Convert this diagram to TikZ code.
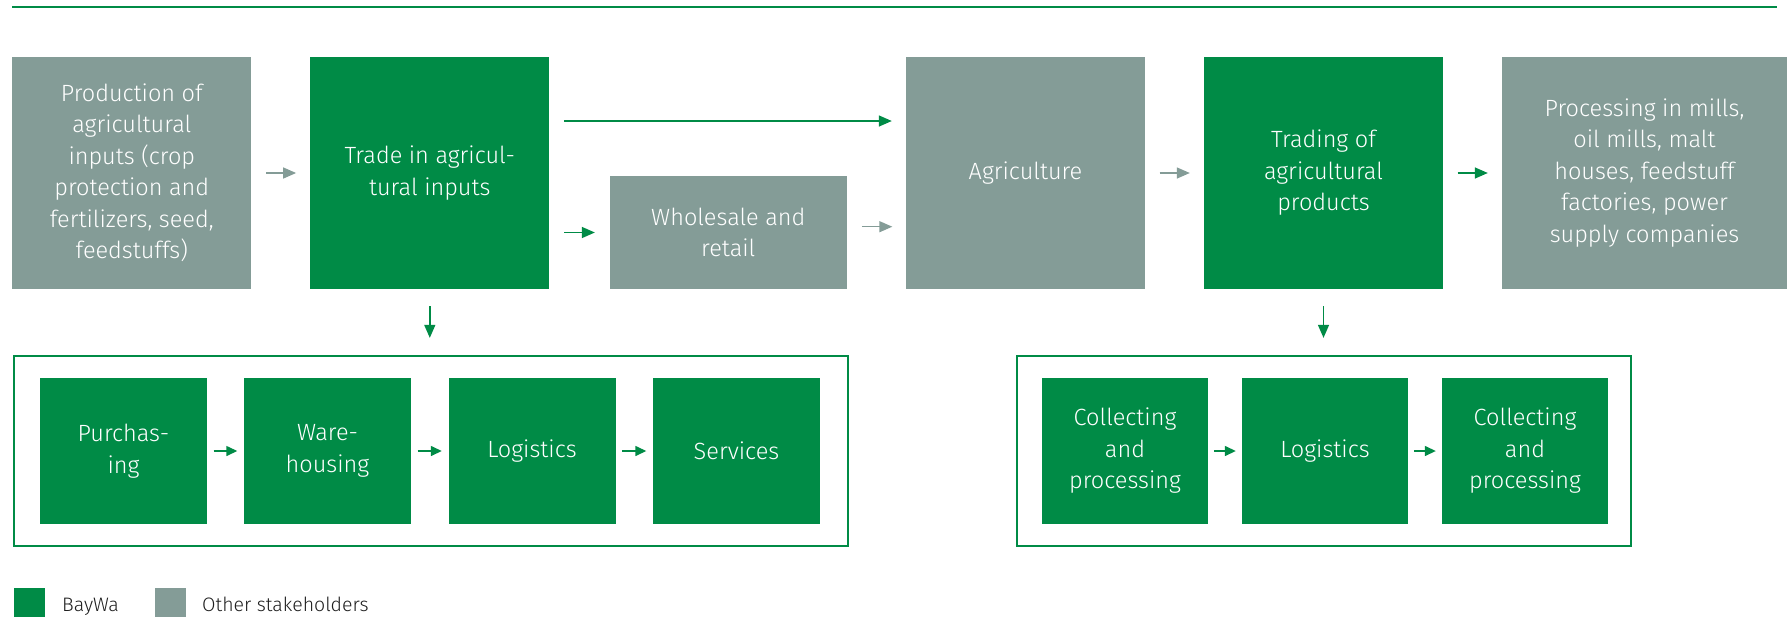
\documentclass[tikz,border=0pt]{standalone}
\usepackage{fontspec}
\setmainfont{Fira Sans Light}
\usetikzlibrary{arrows.meta,calc}
\definecolor{bwgreen}{RGB}{0,139,70}
\definecolor{bwgray}{RGB}{132,156,151}
\definecolor{legtext}{RGB}{30,30,30}
\begin{document}
\begin{tikzpicture}[x=1pt,y=-1pt,
  box/.style={inner sep=0pt, align=center, text=white, font=\fontsize{23.5}{31.5}\selectfont},
  greenbox/.style={box, fill=bwgreen},
  graybox/.style={box, fill=bwgray},
  topbox/.style={minimum width=239pt, minimum height=232pt},
  innerbox/.style={greenbox, minimum width=167pt, minimum height=146pt},
  frame/.style={draw=bwgreen, line width=2.3pt, fill=none},
  arr/.style={-{Triangle[length=13pt,width=11pt]}, line width=1.4pt},
  garr/.style={arr, draw=bwgreen},
  grarr/.style={arr, draw=bwgray},
  sarr/.style={-{Triangle[length=11pt,width=10pt]}, line width=1.4pt, draw=bwgreen, shorten <=6.5pt, shorten >=6.5pt},
  legsq/.style={inner sep=0pt, minimum width=31pt, minimum height=31pt},
  legtxt/.style={inner sep=0pt, anchor=base west, text=legtext, font=\fontsize{19.5}{22}\selectfont}
]
\useasboundingbox (0,0) rectangle (1790,616);
\fill[white] (0,0) rectangle (1790,616);

% top rule
\coordinate (rl) at (12,7);
\coordinate (rr) at (1777,7);
\draw[bwgreen, line width=2.3pt] (rl) -- (rr);

% top row
\node[graybox, topbox] (prod) at (131.8,173) {Production of\\agricultural\\inputs (crop\\protection and\\fertilizers, seed,\\feedstuffs)};
\node[greenbox, topbox] (trade) at (429.8,173) {Trade in agricul-\\tural inputs};
\node[graybox, minimum width=237.5pt, minimum height=113pt] (whole) at (728.3,232.5) {Wholesale and\\retail};
\node[graybox, topbox] (agri) at (1025.5,173) {Agriculture};
\node[greenbox, topbox] (tradp) at (1323.5,173) {Trading of\\agricultural\\products};
\node[graybox, topbox, minimum width=285pt] (proc) at (1644.5,173) {Processing in mills,\\oil mills, malt\\houses, feedstuff\\factories, power\\supply companies};

% frames
\node[frame, inner sep=0pt, minimum width=834pt, minimum height=190pt] (frL) at (431,451) {};
\node[frame, inner sep=0pt, minimum width=614pt, minimum height=190pt] (frR) at (1324,451) {};

% inner boxes left
\node[innerbox] (purch) at (123.5,451) {Purchas-\\ing};
\node[innerbox] (ware) at (327.5,451) {Ware-\\housing};
\node[innerbox] (logL) at (532,451) {Logistics};
\node[innerbox] (serv) at (736.5,451) {Services};

% inner boxes right
\node[innerbox, minimum width=166pt] (coll1) at (1125,451) {Collecting\\and\\processing};
\node[innerbox, minimum width=166pt] (logR) at (1325,451) {Logistics};
\node[innerbox, minimum width=166pt] (coll2) at (1525,451) {Collecting\\and\\processing};

% top-row arrows
\draw[grarr, shorten <=14.5pt, shorten >=14pt] (prod.east) -- (trade.west);
\draw[garr, shorten <=14.5pt, shorten >=14pt] (trade.east |- 0,121) -- (agri.west |- 0,121);
\draw[garr, shorten <=14.5pt, shorten >=14.5pt] (trade.east |- whole.west) -- (whole.west);
\draw[grarr, shorten <=14.5pt, shorten >=13.5pt] ([yshift=5.8pt]whole.east) -- ([yshift=5.8pt]agri.west |- whole.east);
\draw[grarr, shorten <=14.5pt, shorten >=14pt] (agri.east) -- (tradp.west);
\draw[garr, shorten <=14.5pt, shorten >=14pt] (tradp.east) -- (proc.west);

% down arrows
\draw[garr, shorten <=17pt, shorten >=17pt] (trade.south) -- (frL.north -| trade.south);
\draw[garr, shorten <=17pt, shorten >=17pt] (tradp.south) -- (frR.north -| tradp.south);

% inner arrows
\draw[sarr] (purch.east) -- (ware.west);
\draw[sarr] (ware.east) -- (logL.west);
\draw[sarr] (logL.east) -- (serv.west);
\draw[sarr, shorten <=6pt, shorten >=6pt] (coll1.east) -- (logR.west);
\draw[sarr, shorten <=6pt, shorten >=6pt] (logR.east) -- (coll2.west);

% legend
\node[legsq, fill=bwgreen, anchor=north west] (lg1) at (14,588) {};
\node[legtxt] (lt1) at (62,611) {BayWa};
\node[legsq, fill=bwgray, anchor=north west] (lg2) at (155,588) {};
\node[legtxt] (lt2) at (202,611) {Other stakeholders};
\end{tikzpicture}
\end{document}
